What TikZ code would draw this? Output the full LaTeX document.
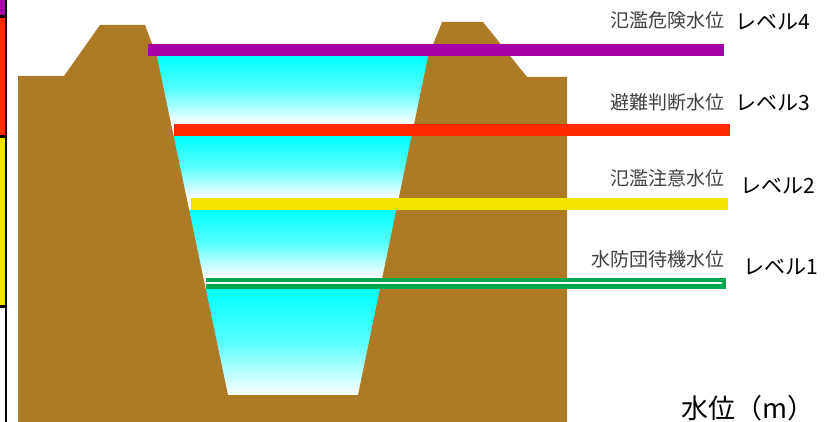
\documentclass[tikz,border=0pt]{standalone}
\usepackage{fontspec}
\newfontfamily\jp{Noto Sans CJK JP}

\definecolor{soil}{HTML}{AD7A25}
\definecolor{lvfour}{HTML}{A800A8}
\definecolor{lvthree}{HTML}{FF2A00}
\definecolor{lvtwo}{HTML}{F0E400}
\definecolor{lvone}{HTML}{00A850}

\tikzset{
  band/.style={top color=cyan, bottom color=white, middle color=cyan!65!white},
  lvline/.style={line width=12pt},
  lvname/.style={anchor=east, inner sep=0pt, text=black!75, font=\jp\fontsize{19}{19}\selectfont},
  lvnum/.style={anchor=west, inner sep=0pt, font=\jp\fontsize{21}{21}\selectfont},
}

\begin{document}
\begin{tikzpicture}[x=1pt, y=-1pt]

    \useasboundingbox (0,0) rectangle (832,422);

    % side scale
    \fill [lvfour] (0,0) rectangle (5,15);
    \fill [lvthree] (0,18) rectangle (5,135);
    \fill [lvtwo] (0,138) rectangle (5,305);
    \draw [line width=2.2pt] (0,16.5) -- (5,16.5);
    \draw [line width=2.2pt] (0,136.5) -- (5,136.5);
    \draw [line width=2.2pt] (0,306.5) -- (5,306.5);
    \draw [line width=2.2pt] (6.2,0) -- (6.2,422);

    % water, one band per level
    \shade [band] (150,56) rectangle (440,124);
    \shade [band] (150,136) rectangle (440,198);
    \shade [band] (150,210) rectangle (440,277);
    \shade [band] (150,289) rectangle (440,395);

    % banks and river bed
    \fill [soil] (18,422) -- (18,76) -- (64,76) -- (100,25) -- (145,25)
        -- (157,57) -- (228,395) -- (358,395) -- (428,57) -- (442,22)
        -- (483,22) -- (527,77) -- (567,77) -- (567,422) -- cycle;

    % levels
    \draw [lvline, lvfour] (148,50) -- (724,50);
    \draw [lvline, lvthree] (174,130) -- (730,130);
    \draw [lvline, lvtwo] (191,204) -- (728,204);
    %% level 1 is hollow
    \fill [lvone] (206,277.5) rectangle (726,288.5);
    \draw [white, line width=2.7pt] (206,283) -- (722,283);

    % labels
    \node [lvname] (name4) at (725,20) {氾濫危険水位};
    \node [lvnum] (num4) at (735,22) {レベル4};
    \node [lvname] (name3) at (725,102) {避難判断水位};
    \node [lvnum] (num3) at (735,103) {レベル3};
    \node [lvname] (name2) at (725,178) {氾濫注意水位};
    \node [lvnum] (num2) at (740,186) {レベル2};
    \node [lvname] (name1) at (725,259) {水防団待機水位};
    \node [lvnum] (num1) at (743,267) {レベル1};

    % axis unit
    \node [anchor=east, inner sep=0pt, font=\jp\fontsize{27}{27}\selectfont] (unit) at (815,408) {水位（m）};

\end{tikzpicture}
\end{document}
